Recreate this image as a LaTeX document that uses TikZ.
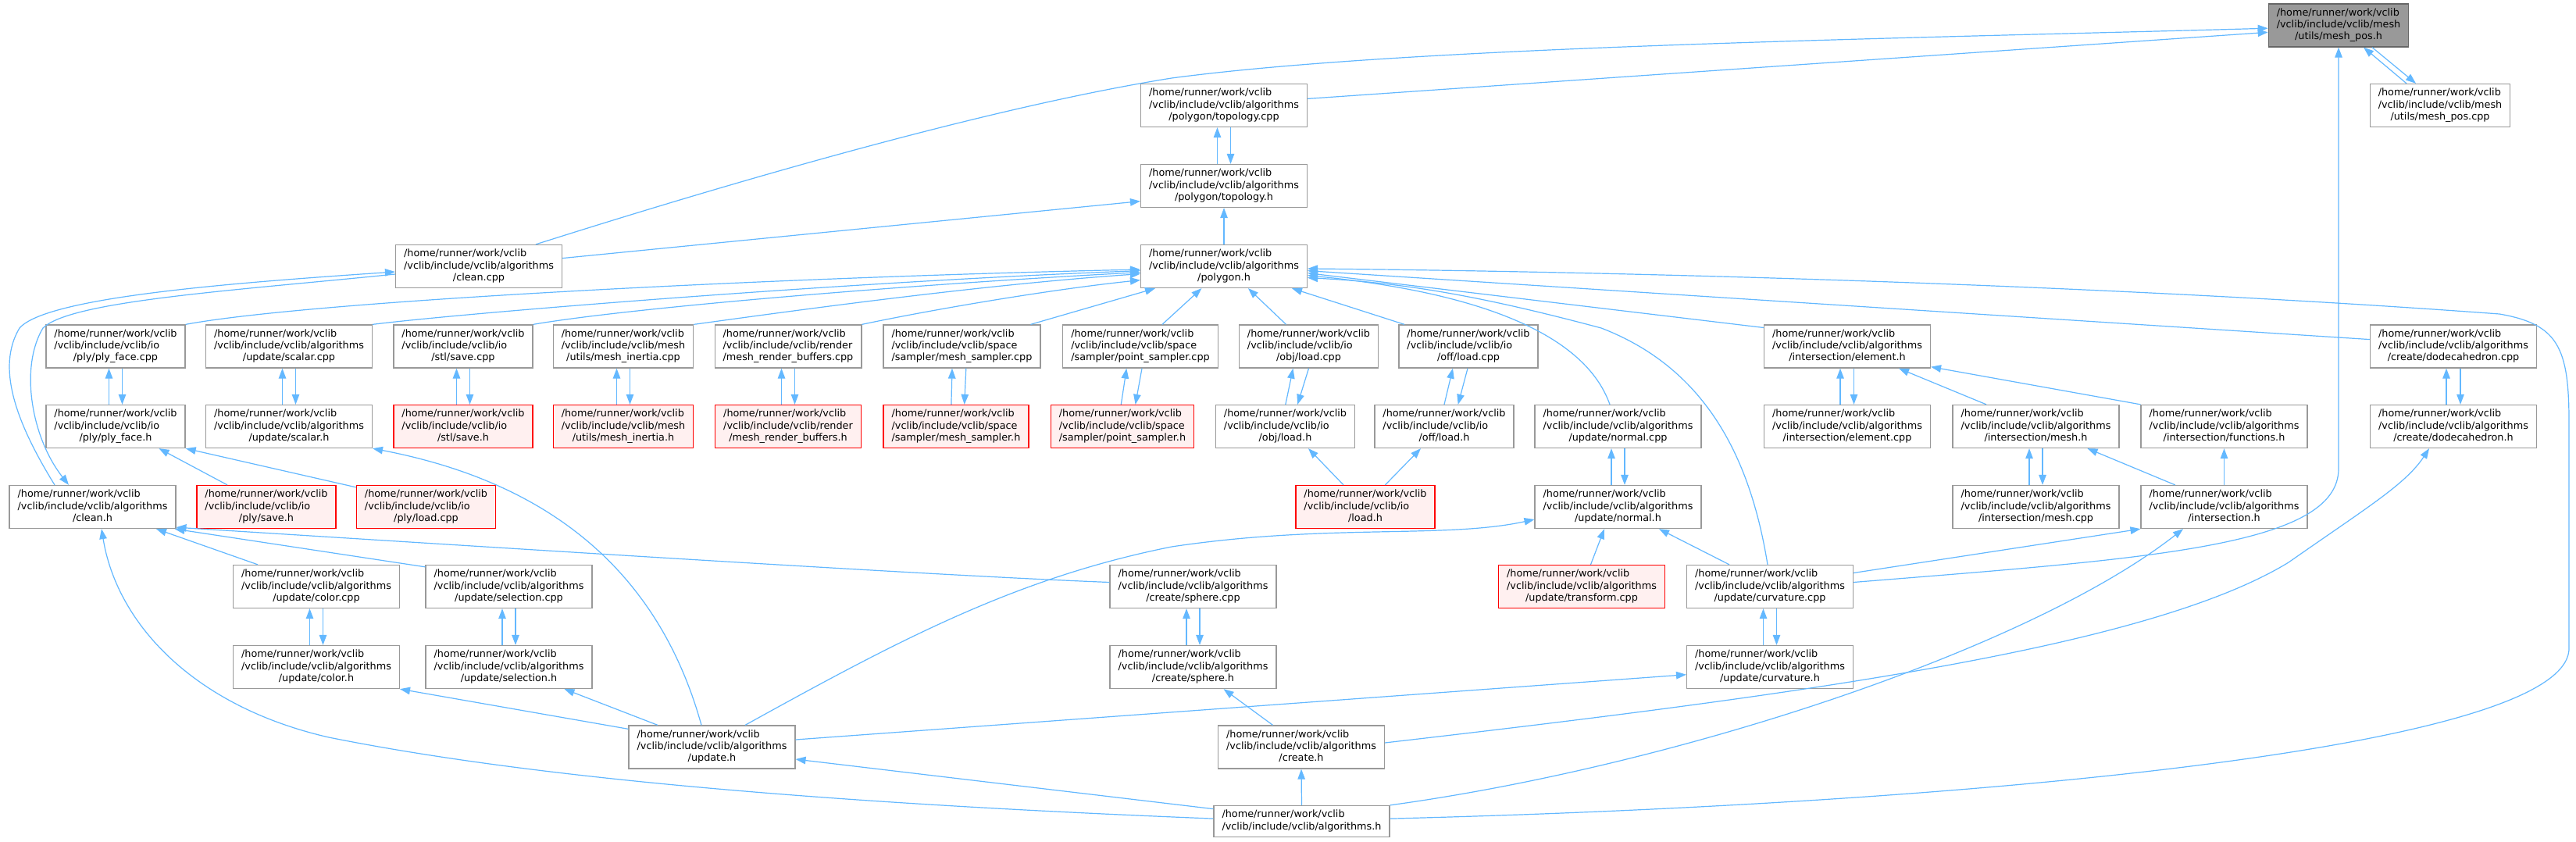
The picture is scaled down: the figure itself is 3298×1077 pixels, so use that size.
\documentclass[tikz,border=0pt]{standalone}
\usepackage{fontspec}
\setmainfont{DejaVu Sans}
\usetikzlibrary{arrows.meta}
\definecolor{edgeblue}{HTML}{63B8FF}
\definecolor{nodegray}{HTML}{999999}
\definecolor{rootborder}{HTML}{666666}
\definecolor{redfill}{HTML}{FFF0F0}
\newcommand\lfont{\fontsize{12.8}{15.4}\selectfont}
\newcommand\lab[3]{\begin{tabular}{@{}l@{}}#1\\#2\\\multicolumn{1}{@{}c@{}}{#3}\end{tabular}}
\newcommand\hm{/home/runner/work/vclib}
\newcommand\alg{/vclib/include/vclib/algorithms}
\newcommand\vio{/vclib/include/vclib/io}
\newcommand\bip[6]{%
  \draw[e] ([xshift=#4pt]#2.north) -- ([xshift=#3pt]#1.south);
  \draw[e] ([xshift=#5pt]#1.south) -- ([xshift=#6pt]#2.north);}
\begin{document}
\begin{tikzpicture}[x=1pt,y=-1pt,
  box/.style={draw=nodegray, fill=white, line width=1.3pt, rectangle,
    inner xsep=10.5pt, inner ysep=0pt, minimum height=55pt, font=\lfont},
  rootbox/.style={box, fill=nodegray, draw=rootborder},
  redbox/.style={box, fill=redfill, draw=red},
  e/.style={draw=edgeblue, line width=1.2pt, -{Triangle[length=13pt,width=9.5pt]}}]
\fill[white] (0,0) rectangle (3298,1077);
\useasboundingbox (0,0) rectangle (3298,1077);
% rank 0-3
\node[rootbox] (meshposh) at (2994,32.5) {\lab{\hm}{/vclib/include/vclib/mesh}{/utils/mesh\_pos.h}};
\node[box] (topocpp) at (1567,135) {\lab{\hm}{\alg}{/polygon/topology.cpp}};
\node[box] (meshposcpp) at (3124,135) {\lab{\hm}{/vclib/include/vclib/mesh}{/utils/mesh\_pos.cpp}};
\node[box] (topoh) at (1567,238) {\lab{\hm}{\alg}{/polygon/topology.h}};
\node[box] (cleancpp) at (613,341) {\lab{\hm}{\alg}{/clean.cpp}};
\node[box] (polygonh) at (1567,341) {\lab{\hm}{\alg}{/polygon.h}};
% rank 4
\node[box] (plyfacecpp) at (148,443.5) {\lab{\hm}{\vio}{/ply/ply\_face.cpp}};
\node[box] (scalarcpp) at (370,443.5) {\lab{\hm}{\alg}{/update/scalar.cpp}};
\node[box] (stlsavecpp) at (593,443.5) {\lab{\hm}{\vio}{/stl/save.cpp}};
\node[box] (inertiacpp) at (798,443.5) {\lab{\hm}{/vclib/include/vclib/mesh}{/utils/mesh\_inertia.cpp}};
\node[box] (rbufcpp) at (1009,443.5) {\lab{\hm}{/vclib/include/vclib/render}{/mesh\_render\_buffers.cpp}};
\node[box] (msampcpp) at (1231.5,443.5) {\lab{\hm}{/vclib/include/vclib/space}{/sampler/mesh\_sampler.cpp}};
\node[box] (psampcpp) at (1460,443.5) {\lab{\hm}{/vclib/include/vclib/space}{/sampler/point\_sampler.cpp}};
\node[box] (objloadcpp) at (1675.5,443.5) {\lab{\hm}{\vio}{/obj/load.cpp}};
\node[box] (offloadcpp) at (1880,443.5) {\lab{\hm}{\vio}{/off/load.cpp}};
\node[box] (ielemh) at (2365,443.5) {\lab{\hm}{\alg}{/intersection/element.h}};
\node[box] (dodecpp) at (3141,443.5) {\lab{\hm}{\alg}{/create/dodecahedron.cpp}};
% rank 5
\node[box] (plyfaceh) at (148,546) {\lab{\hm}{\vio}{/ply/ply\_face.h}};
\node[box] (scalarh) at (370,546) {\lab{\hm}{\alg}{/update/scalar.h}};
\node[redbox] (stlsaveh) at (593,546) {\lab{\hm}{\vio}{/stl/save.h}};
\node[redbox] (inertiah) at (798,546) {\lab{\hm}{/vclib/include/vclib/mesh}{/utils/mesh\_inertia.h}};
\node[redbox] (rbufh) at (1009,546) {\lab{\hm}{/vclib/include/vclib/render}{/mesh\_render\_buffers.h}};
\node[redbox] (msamph) at (1224,546) {\lab{\hm}{/vclib/include/vclib/space}{/sampler/mesh\_sampler.h}};
\node[redbox] (psamph) at (1437,546) {\lab{\hm}{/vclib/include/vclib/space}{/sampler/point\_sampler.h}};
\node[box] (objloadh) at (1645.5,546) {\lab{\hm}{\vio}{/obj/load.h}};
\node[box] (offloadh) at (1849,546) {\lab{\hm}{\vio}{/off/load.h}};
\node[box] (normalcpp) at (2071.5,546) {\lab{\hm}{\alg}{/update/normal.cpp}};
\node[box] (ielemcpp) at (2365,546) {\lab{\hm}{\alg}{/intersection/element.cpp}};
\node[box] (imeshh) at (2606.5,546) {\lab{\hm}{\alg}{/intersection/mesh.h}};
\node[box] (ifunch) at (2847.5,546) {\lab{\hm}{\alg}{/intersection/functions.h}};
\node[box] (dodeh) at (3141,546) {\lab{\hm}{\alg}{/create/dodecahedron.h}};
% rank 6
\node[box] (cleanh) at (118.5,649) {\lab{\hm}{\alg}{/clean.h}};
\node[redbox] (plysaveh) at (341,649) {\lab{\hm}{\vio}{/ply/save.h}};
\node[redbox] (plyloadcpp) at (545.5,649) {\lab{\hm}{\vio}{/ply/load.cpp}};
\node[redbox] (ioloadh) at (1748,649) {\lab{\hm}{\vio}{/load.h}};
\node[box] (normalh) at (2071.5,649) {\lab{\hm}{\alg}{/update/normal.h}};
\node[box] (imeshcpp) at (2606.5,649) {\lab{\hm}{\alg}{/intersection/mesh.cpp}};
\node[box] (interh) at (2847.5,649) {\lab{\hm}{\alg}{/intersection.h}};
% rank 7
\node[box] (colorcpp) at (405,751) {\lab{\hm}{\alg}{/update/color.cpp}};
\node[box] (selcpp) at (651.5,751) {\lab{\hm}{\alg}{/update/selection.cpp}};
\node[box] (spherecpp) at (1527.5,751) {\lab{\hm}{\alg}{/create/sphere.cpp}};
\node[redbox] (transfcpp) at (2025,751) {\lab{\hm}{\alg}{/update/transform.cpp}};
\node[box] (curvcpp) at (2266,751) {\lab{\hm}{\alg}{/update/curvature.cpp}};
% rank 8
\node[box] (colorh) at (405,854) {\lab{\hm}{\alg}{/update/color.h}};
\node[box] (selh) at (651.5,854) {\lab{\hm}{\alg}{/update/selection.h}};
\node[box] (sphereh) at (1527.5,854) {\lab{\hm}{\alg}{/create/sphere.h}};
\node[box] (curvh) at (2266,854) {\lab{\hm}{\alg}{/update/curvature.h}};
% rank 9-10
\node[box] (updateh) at (911.5,956.5) {\lab{\hm}{\alg}{/update.h}};
\node[box] (createh) at (1666,956.5) {\lab{\hm}{\alg}{/create.h}};
\node[box, minimum height=40pt] (algh) at (1666.5,1051.5) {\begin{tabular}{@{}l@{}}\hm\\/vclib/include/vclib/algorithms.h\end{tabular}};

% ---- edges ----
% mesh_pos.h
\draw[e] ([yshift=8.6pt]topocpp.east) -- ([yshift=-8.8pt]meshposh.west);
\draw[e] ([xshift=73pt]cleancpp.north) .. controls (900,245) and (1250,140) .. (1500,100) .. controls (1800,60) and (2400,50) .. ([yshift=-3.7pt]meshposh.west);
\bip{meshposh}{meshposcpp}{32}{-43}{43}{-31}
\draw[e] ([yshift=5.5pt]curvcpp.east) .. controls (2750,715) and (2994,700) .. (2994,600) -- (meshposh.south);
% topology
\bip{topocpp}{topoh}{-8.5}{-8.5}{8.5}{8.5}
\draw[e] (polygonh.north) -- (topoh.south);
\draw[e] ([yshift=10.4pt]cleancpp.east) -- ([yshift=-19.6pt]topoh.west);
% clean pair
\draw[e] ([xshift=-48.5pt]cleanh.north) .. controls (20,540) and (-5,470) .. (25,420) .. controls (60,380) and (300,362) .. ([yshift=-7pt]cleancpp.west);
\draw[e] ([yshift=-10pt]cleancpp.west) .. controls (300,372) and (90,385) .. (55,420) .. controls (25,470) and (40,560) .. ([xshift=-30.5pt]cleanh.north);
% polygon.h left fan
\draw[e] (plyfacecpp.north east) .. controls (400,385) and (1000,355) .. ([yshift=-4pt]polygonh.west);
\draw[e] (scalarcpp.north east) .. controls (600,400) and (1100,360) .. ([yshift=-5.6pt]polygonh.west);
\draw[e] (stlsavecpp.north east) .. controls (800,395) and (1150,365) .. ([yshift=-7.6pt]polygonh.west);
\draw[e] (inertiacpp.north east) .. controls (1000,400) and (1250,365) .. ([yshift=-9.6pt]polygonh.west);
\draw[e] (rbufcpp.north east) .. controls (1200,395) and (1350,370) .. ([yshift=-17.6pt]polygonh.west);
\draw[e] ([xshift=88pt]msampcpp.north) -- ([xshift=-88pt]polygonh.south);
\draw[e] ([xshift=28pt]psampcpp.north) -- ([xshift=-28.6pt]polygonh.south);
\draw[e] ([xshift=-29pt]objloadcpp.north) -- ([xshift=31pt]polygonh.south);
\draw[e] ([xshift=-82pt]offloadcpp.north) -- ([xshift=87pt]polygonh.south);
% polygon.h right fan
\draw[e] ([yshift=8.9pt]dodecpp.west) -- ([yshift=-5.6pt]polygonh.east);
\draw[e] ([yshift=24pt]ielemh.west) -- ([yshift=-8.6pt]polygonh.east);
\draw[e] ([xshift=-10.5pt]normalcpp.north) .. controls (2030,430) and (1900,375) .. ([yshift=-11.6pt]polygonh.east);
\draw[e] ([xshift=-3pt]curvcpp.north) .. controls (2240,580) and (2180,470) .. (2050,420) .. controls (1900,380) and (1800,362) .. ([yshift=-14.6pt]polygonh.east);
\draw[e] ([yshift=3.4pt]algh.east) .. controls (2500,1030) and (3289,960) .. (3289,830) -- (3289,540) .. controls (3289,445) and (3275,415) .. (3200,402) .. controls (2700,365) and (2100,348) .. ([yshift=-3pt]polygonh.east);
% pairs
\bip{plyfacecpp}{plyfaceh}{-8.5}{-8.5}{8.5}{8.5}
\bip{scalarcpp}{scalarh}{-8.5}{-8.5}{8.5}{8.5}
\bip{stlsavecpp}{stlsaveh}{-8.5}{-8.5}{8.5}{8.5}
\bip{inertiacpp}{inertiah}{-8.5}{-8.5}{8.5}{8.5}
\bip{rbufcpp}{rbufh}{-8.5}{-8.5}{8.5}{8.5}
\bip{msampcpp}{msamph}{-12.5}{-6.1}{5.3}{10.7}
\bip{psampcpp}{psamph}{-17.7}{-1.7}{2}{16.6}
\bip{objloadcpp}{objloadh}{-20}{0.3}{0}{15.7}
\bip{offloadcpp}{offloadh}{-20}{0}{-1}{17.7}
\bip{ielemh}{ielemcpp}{-9}{-9}{8.5}{8.5}
\bip{dodecpp}{dodeh}{-9}{-9}{9}{9}
\bip{normalcpp}{normalh}{-8.5}{-8.5}{8.5}{8.5}
\bip{imeshh}{imeshcpp}{-8.5}{-8.5}{8.5}{8.5}
\bip{colorcpp}{colorh}{-8.5}{-8.5}{8.5}{8.5}
\bip{selcpp}{selh}{-8.5}{-8.5}{8.5}{8.5}
\bip{spherecpp}{sphereh}{-8.5}{-8.5}{8.5}{8.5}
\bip{curvcpp}{curvh}{-8.5}{-8.5}{8.5}{8.5}
% ply_face.h
\draw[e] ([xshift=-50pt]plysaveh.north) -- ([xshift=55.5pt]plyfaceh.south);
\draw[e] ([yshift=-3pt]plyloadcpp.north west) -- (plyfaceh.south east);
% scalar.h
\draw[e] ([xshift=-13.5pt]updateh.north) .. controls (840,720) and (690,615) .. (scalarh.south east);
% update.h
\draw[e] ([yshift=-5pt]updateh.north west) -- (colorh.south east);
\draw[e] ([xshift=-69.5pt]updateh.north) -- ([xshift=71pt]selh.south);
\draw[e] ([yshift=9.5pt]updateh.east) -- ([yshift=-9.7pt]curvh.west);
\draw[e] ([xshift=42.5pt]updateh.north) .. controls (1150,820) and (1300,740) .. (1500,700) .. controls (1700,670) and (1850,690) .. ([yshift=-16pt]normalh.west);
\draw[e] ([yshift=-4.8pt]algh.north west) -- ([yshift=-15.5pt]updateh.east);
% clean.h
\draw[e] ([yshift=3.4pt]algh.west) .. controls (1100,1030) and (700,1000) .. (421,944) .. controls (250,905) and (150,800) .. ([xshift=11.5pt]cleanh.south);
\draw[e] ([xshift=-75pt]colorcpp.north) -- ([xshift=81.5pt]cleanh.south);
\draw[e] ([yshift=-3pt]selcpp.north west) -- ([xshift=-2pt]cleanh.south east);
\draw[e] ([yshift=5.5pt]spherecpp.west) .. controls (1200,737) and (700,705) .. ([yshift=2pt]cleanh.south east);
% intersection
\draw[e] ([xshift=-63.5pt]imeshh.north) -- ([xshift=66pt]ielemh.south);
\draw[e] (ifunch.north west) -- ([yshift=2pt]ielemh.south east);
\draw[e] ([xshift=-62.8pt]interh.north) -- ([xshift=66pt]imeshh.south);
\draw[e] (interh.north) -- (ifunch.south);
\draw[e] ([yshift=17.5pt]curvcpp.east) -- (interh.south west);
\draw[e] (algh.north east) .. controls (2150,980) and (2600,830) .. ([xshift=-52.5pt]interh.south);
% normal.h
\draw[e] ([xshift=-52pt]curvcpp.north) -- ([xshift=52.5pt]normalh.south);
\draw[e] ([xshift=11.5pt]transfcpp.north) -- ([xshift=-17.5pt]normalh.south);
% create
\draw[e] ([yshift=5.5pt]createh.east) .. controls (2300,890) and (2750,830) .. (2930,720) .. controls (3030,650) and (3080,620) .. ([xshift=-31pt]dodeh.south);
\draw[e] ([xshift=-36.5pt]createh.north) -- ([xshift=39pt]sphereh.south);
\draw[e] (algh.north) -- (createh.south);
% io load
\draw[e] ([xshift=-28pt]ioloadh.north) -- ([xshift=29.5pt]objloadh.south);
\draw[e] ([xshift=25.4pt]ioloadh.north) -- ([xshift=-30pt]offloadh.south);
\end{tikzpicture}
\end{document}
